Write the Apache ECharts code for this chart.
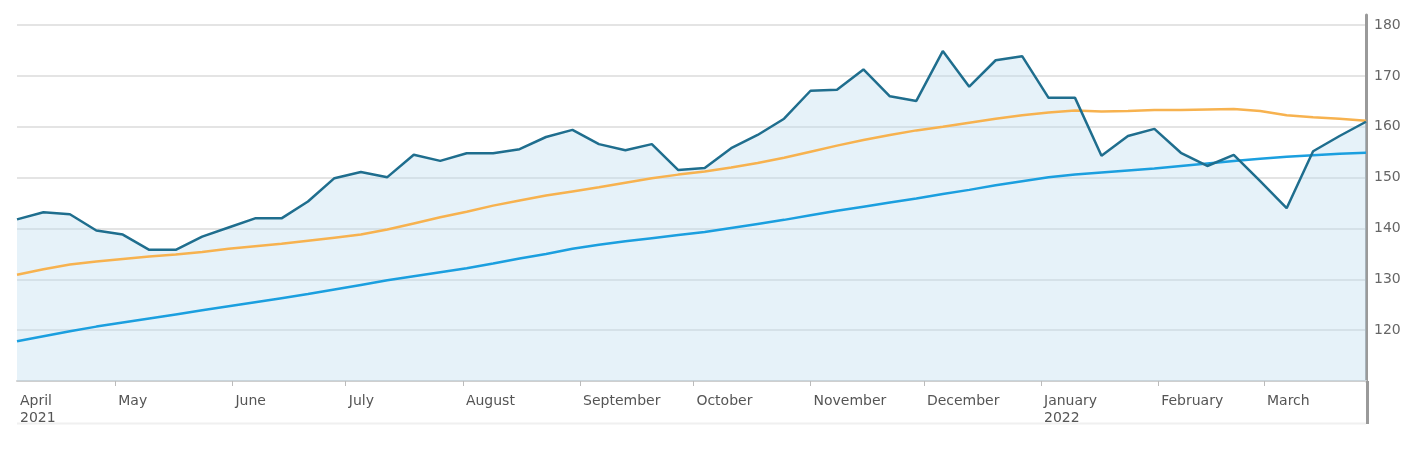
<!DOCTYPE html>
<html><head><meta charset="utf-8">
<script src="https://cdn.jsdelivr.net/npm/echarts@6/dist/echarts.min.js"></script>
<style>html,body{margin:0;padding:0;background:#fff}#c{width:1420px;height:458px}</style>
</head><body><div id="c"></div>
<script>
const dates = ['2021-04-05','2021-04-12','2021-04-19','2021-04-26','2021-05-03','2021-05-10','2021-05-17','2021-05-24','2021-05-31',
'2021-06-07','2021-06-14','2021-06-21','2021-06-28','2021-07-05','2021-07-12','2021-07-19','2021-07-26','2021-08-02','2021-08-09',
'2021-08-16','2021-08-23','2021-08-30','2021-09-06','2021-09-13','2021-09-20','2021-09-27','2021-10-04','2021-10-11','2021-10-18',
'2021-10-25','2021-11-01','2021-11-08','2021-11-15','2021-11-22','2021-11-29','2021-12-06','2021-12-13','2021-12-20','2021-12-27',
'2022-01-03','2022-01-10','2022-01-17','2022-01-24','2022-01-31','2022-02-07','2022-02-14','2022-02-21','2022-02-28','2022-03-07',
'2022-03-14','2022-03-21','2022-03-28'];
const price = [141.8,143.2,142.8,139.6,138.8,135.8,135.8,138.4,140.2,142.0,142.0,145.3,149.9,151.1,150.1,154.5,153.3,154.8,154.8,155.6,
158.0,159.4,156.6,155.4,156.6,151.5,151.9,155.8,158.4,161.6,167.1,167.3,171.3,166.0,165.1,174.9,167.9,173.1,173.9,165.7,165.7,154.3,
158.2,159.6,154.9,152.3,154.5,149.3,144.0,155.2,158.2,161.0];
const avgShort = [130.9,132.0,132.9,133.5,134.0,134.5,134.9,135.4,136.0,136.5,137.0,137.6,138.2,138.8,139.8,141.0,142.2,143.3,144.5,
145.5,146.5,147.3,148.1,149.0,149.9,150.6,151.2,152.0,152.9,153.9,155.1,156.3,157.4,158.4,159.3,160.0,160.8,161.6,162.3,162.8,163.2,
163.0,163.1,163.3,163.3,163.4,163.5,163.1,162.3,161.9,161.6,161.2];
const avgLong = [117.8,118.8,119.8,120.7,121.5,122.3,123.1,123.9,124.7,125.5,126.3,127.1,128.0,128.9,129.8,130.6,131.4,132.2,133.1,
134.1,135.0,136.0,136.8,137.5,138.1,138.7,139.3,140.1,140.9,141.7,142.6,143.5,144.3,145.1,145.9,146.8,147.6,148.5,149.3,150.1,150.6,
151.0,151.4,151.8,152.3,152.8,153.3,153.7,154.1,154.4,154.7,154.9];
const monthNames = ['January','February','March','April','May','June','July','August','September','October','November','December'];
const yTickLabels = [120,130,140,150,160,170,180];

const toUTC = s => { const p = s.split('-').map(Number); return Date.UTC(p[0], p[1]-1, p[2]); };
const pairs = arr => arr.map((v, i) => [toUTC(dates[i]), v]);
const xMin = toUTC(dates[0]);
const xMax = toUTC(dates[dates.length-1]);
const monthLabel = (value, withYear) => {
  const d = new Date(value);
  const m = d.getUTCMonth();
  let s = monthNames[m];
  if (m === 0 || withYear) s += '\n' + d.getUTCFullYear();
  return s;
};

const chart = echarts.init(document.getElementById('c'), null, {renderer: 'canvas'});
const font = '"DejaVu Sans", sans-serif';
const labelStyle = {color: '#555', fontSize: 14, fontFamily: font, align: 'left', margin: 12, lineHeight: 17,
  padding: [0, 0, 0, 3], hideOverlap: false};
chart.setOption({
  animation: false,
  useUTC: true,
  backgroundColor: '#ffffff',
  grid: {left: 17, right: 54, top: 15, bottom: 77, containLabel: false},
  xAxis: [{
    type: 'time',
    min: xMin,
    max: xMax,
    splitNumber: 12,
    maxInterval: 31 * 86400000,
    axisLine: {show: true, lineStyle: {color: '#cfcfcf', width: 2}},
    axisTick: {show: true, length: 5, lineStyle: {color: '#bbbbbb', width: 1}},
    splitLine: {show: false},
    axisLabel: Object.assign({}, labelStyle, {formatter: v => monthLabel(v, false)})
  }, {
    type: 'value',
    position: 'bottom',
    min: xMin,
    max: xMax,
    interval: xMax - xMin,
    axisLine: {show: false},
    axisTick: {show: false},
    splitLine: {show: false},
    axisLabel: Object.assign({}, labelStyle, {showMinLabel: true, showMaxLabel: false,
      formatter: v => (v === xMin ? monthLabel(v, true) : '')})
  }],
  yAxis: {
    type: 'value', position: 'right', min: 110, max: 182, interval: 10,
    axisLine: {show: true, lineStyle: {color: '#9a9a9a', width: 3}},
    axisTick: {show: false},
    splitLine: {show: true, showMinLine: false, showMaxLine: false, lineStyle: {color: '#e4e4e4', width: 2}},
    axisLabel: {
      color: '#666', fontSize: 14, fontFamily: font, margin: 8,
      formatter: v => (yTickLabels.indexOf(v) >= 0 ? String(v) : '')
    }
  },
  graphic: [
    {type: 'line', shape: {x1: 1367.5, y1: 381, x2: 1367.5, y2: 424}, style: {stroke: '#9a9a9a', lineWidth: 3}, z: 10},
    {type: 'line', shape: {x1: 17, y1: 423.5, x2: 1366, y2: 423.5}, style: {stroke: '#f0f0f0', lineWidth: 2}, z: 1}
  ],
  series: [
    {name: 'fill', type: 'line', data: pairs(price), showSymbol: false, silent: true,
     lineStyle: {width: 0, opacity: 0}, areaStyle: {color: 'rgba(190,222,240,0.55)', origin: 'start'}, z: 1},
    {name: 'avgShort', type: 'line', data: pairs(avgShort), showSymbol: false,
     lineStyle: {color: '#f7b24f', width: 2.5}, z: 3},
    {name: 'avgLong', type: 'line', data: pairs(avgLong), showSymbol: false,
     lineStyle: {color: '#1b9fdf', width: 2.5}, z: 3},
    {name: 'price', type: 'line', data: pairs(price), showSymbol: false,
     lineStyle: {color: '#1f6e8e', width: 2.5}, z: 4}
  ]
});
</script></body></html>
